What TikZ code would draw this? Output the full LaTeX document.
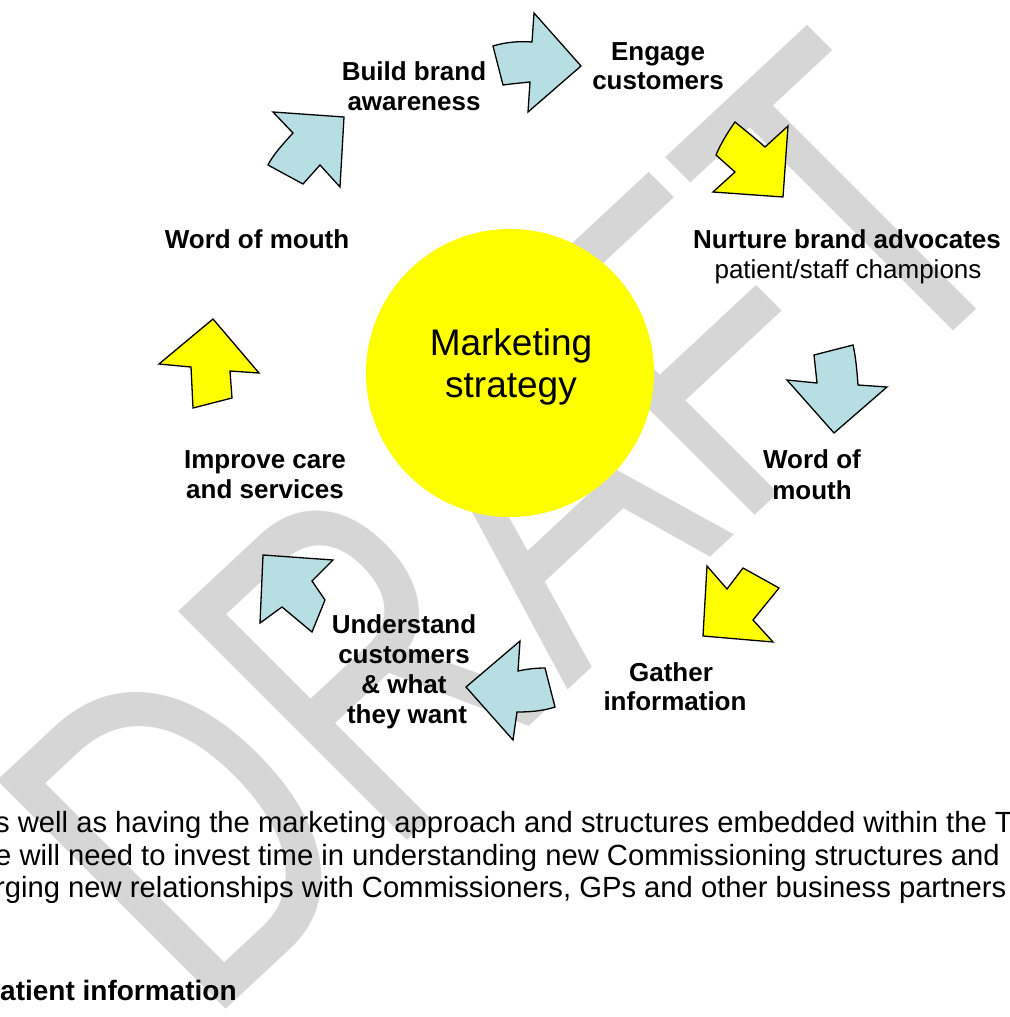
\documentclass[tikz,border=0pt]{standalone}
\usepackage{fontspec}
\setmainfont{Liberation Sans}
\newfontfamily\wmfont{Liberation Sans}
\definecolor{arrowblue}{RGB}{183,222,226}
\definecolor{wmgray}{RGB}{214,214,214}
\definecolor{sunyellow}{RGB}{255,255,0}
\begin{document}
\begin{tikzpicture}[x={(1pt,0pt)}, y={(0pt,-1pt)},
  lb/.style={font=\bfseries\fontsize{26}{30}\selectfont, anchor=base, inner sep=0},
  lr/.style={font=\fontsize{26}{30}\selectfont, anchor=base, inner sep=0},
  hubtext/.style={font=\fontsize{37}{42}\selectfont, anchor=base, inner sep=0},
  para/.style={font=\fontsize{29.2}{33}\selectfont, anchor=base west, inner sep=0},
  parab/.style={font=\bfseries\fontsize{28}{33}\selectfont, anchor=base west, inner sep=0},
  bluearrow/.style={draw=black, line width=1.3pt, line join=miter, fill=arrowblue},
  yellowarrow/.style={draw=black, line width=1.3pt, line join=miter, fill=sunyellow},
  wm/.style={font=\wmfont\fontsize{470}{470}\selectfont, text=wmgray, inner sep=0}]
\useasboundingbox (0,0) rectangle (1009,1017);
\fill[white] (0,0) rectangle (1009,1017);

% DRAFT watermark
\begin{scope}[shift={(205,1029)}]
\node[wm, cm={0.534,0.498,-0.707,0.707,(0,0)}, transform shape, anchor=base west] (draft) at (0,0) {DRAFT};
\end{scope}

% central circle
\node[circle, fill=sunyellow, minimum size=288pt, inner sep=0] (hub) at (510,373) {};
\node[hubtext] (hub1) at (511,355) {Marketing};
\node[hubtext] (hub2) at (511,397) {strategy};

% block arrows
\draw[bluearrow] (493,46) .. controls (506,42) and (520,41) .. (532,42) -- (534,13) -- (581,66) -- (528,112) -- (530,82) .. controls (520,83) and (510,84) .. (503,85) -- cycle;
\draw[bluearrow] (344,117) -- (273,112) -- (293,133) .. controls (282,145) and (273,155) .. (268,165) -- (303,184) -- (320,165) -- (340,187) -- cycle;
\draw[yellowarrow] (735,122) .. controls (746,131) and (756,139) .. (765,147) -- (788,126) -- (783,197) -- (713,192) -- (735,172) -- (716,155) .. controls (721,143) and (728,132) .. cycle;
\draw[bluearrow] (814,355) -- (853,345) .. controls (856,358) and (857,372) .. (858,385) -- (887,387) -- (834,433) -- (787,380) -- (817,383) -- cycle;
\draw[yellowarrow] (707,566) -- (727,589) -- (743,568) -- (779,588) -- (753,620) -- (773,642) -- (703,636) -- cycle;
\draw[bluearrow] (520,641) -- (518,671) .. controls (527,669) and (536,668) .. (545,668) -- (555,707) .. controls (543,711) and (530,712) .. (517,712) -- (513,740) -- (466,687) -- cycle;
\draw[bluearrow] (263,555) -- (333,560) -- (312,581) -- (325,600) -- (312,632) -- (282,607) -- (260,623) -- cycle;
\draw[yellowarrow] (213,319) -- (259,373) -- (230,371) -- (232,398) -- (193,408) -- (191,367) -- (159,364) -- cycle;

% labels
\node[lb] (bb1) at (414,80) {Build brand};
\node[lb] (bb2) at (414,110) {awareness};
\node[lb] (ec1) at (658,60) {Engage};
\node[lb] (ec2) at (658,89) {customers};
\node[lb] (nb1) at (847,248) {Nurture brand advocates};
\node[lr] (nb2) at (848,278) {patient/staff champions};
\node[lb] (wr1) at (812,468) {Word of};
\node[lb] (wr2) at (812,499) {mouth};
\node[lb] (gi1) at (671,681) {Gather};
\node[lb] (gi2) at (675,710) {information};
\node[lb] (uc1) at (404,633) {Understand};
\node[lb] (uc2) at (404,663) {customers};
\node[lb] (uc3) at (404,693) {\& what};
\node[lb] (uc4) at (407,723) {they want};
\node[lb] (ic1) at (265,468) {Improve care};
\node[lb] (ic2) at (265,498) {and services};
\node[lb] (wl1) at (257,248) {Word of mouth};

% paragraph
\node[para] (p1) at (-5,832) {s well as having the marketing approach and structures embedded within the T};
\node[para] (p2) at (-5,865) {e will need to invest time in understanding new Commissioning structures and};
\node[para] (p3) at (-5,897) {rging new relationships with Commissioners, GPs and other business partners};
\node[parab] (p4) at (0,1000) {atient information};
\end{tikzpicture}
\end{document}
